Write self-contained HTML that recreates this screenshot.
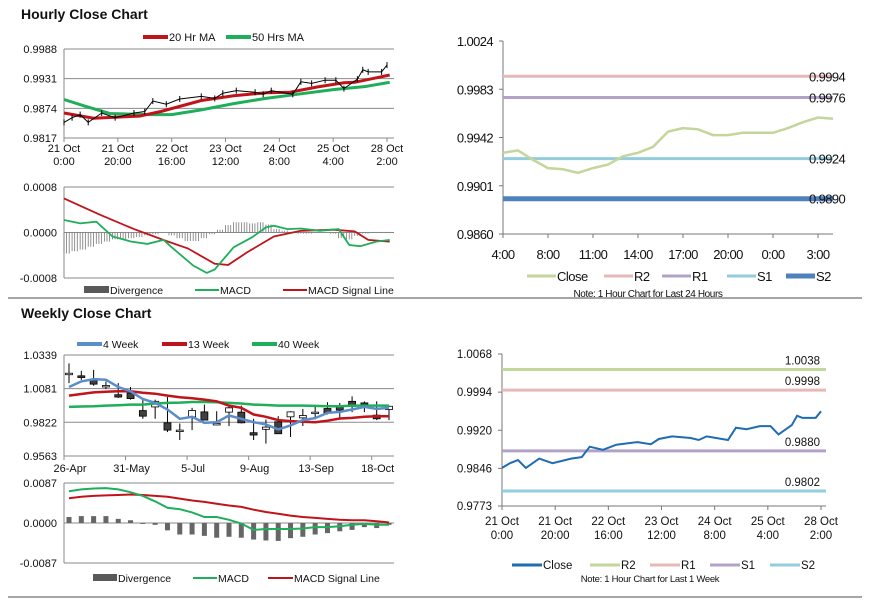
<!DOCTYPE html>
<html><head><meta charset="utf-8"><style>
html,body{margin:0;padding:0;background:#fff;}
svg{display:block;font-family:"Liberation Sans",Arial,sans-serif;}
</style></head><body>
<svg id="s" width="873" height="601" viewBox="0 0 873 601" xmlns="http://www.w3.org/2000/svg">
<rect width="873" height="601" fill="#fff"/>
<text x="21" y="19" font-size="14" font-weight="bold" fill="#111">Hourly Close Chart</text>
<text x="21" y="318" font-size="14" font-weight="bold" fill="#111">Weekly Close Chart</text>
<line x1="8" y1="298" x2="862" y2="298" stroke="#888" stroke-width="1.5"/>
<line x1="8" y1="597" x2="862" y2="597" stroke="#888" stroke-width="1.5"/>
</svg>
<script>
// ===== Hourly close (shared series for top-left candles & bottom-right line) =====
const hHours=[0,3,6,9,14,19,26,30,33,38,43,51,56,59,64,71,74,77,85,88,92,97,101,104,109,111,113,118,120];
const hClose=[0.9847,0.9856,0.9862,0.9847,0.9865,0.9856,0.9865,0.9868,0.9888,0.9882,0.9892,0.9897,0.9893,0.9903,0.9908,0.9905,0.9901,0.9908,0.9901,0.9925,0.9922,0.9928,0.9928,0.9912,0.9930,0.9948,0.9944,0.9944,0.9957];
const maHours20=[0,11,28,36,51,63,75,84,94,104,108,121];
const ma20=[0.9865,0.9855,0.9859,0.9868,0.9889,0.9898,0.9904,0.9905,0.9915,0.9923,0.9924,0.9938];
const maHours50=[0,8,17,32,40,51,63,75,88,100,112,121];
const ma50=[0.9891,0.9878,0.9864,0.9862,0.9862,0.9871,0.9883,0.9893,0.9902,0.9910,0.9916,0.9924];
const hTickLabels1=["21 Oct","21 Oct","22 Oct","23 Oct","24 Oct","25 Oct","28 Oct"];
const hTickLabels2=["0:00","20:00","16:00","12:00","8:00","4:00","2:00"];
const hTickIdx=[0,20,40,60,80,100,120];
const hYTicks=[0.9817,0.9874,0.9931,0.9988];
// hourly MACD
const sigHours=[0,13,26,38,46,56,61,68,78,88,100,108,113,121];
const sigVals=[0.00060,0.00032,0.00006,-0.00015,-0.00028,-0.00055,-0.00057,-0.00035,-0.00007,0.00003,0.00005,0.00002,-0.00013,-0.00016];
const macdHours=[0,6,12,18,25,31,37,40,48,53,56,63,70,75,78,83,88,95,102,106,110,116,121];
const macdVals=[0.00022,0.00016,0.00019,-0.00007,-0.00016,-0.00020,-0.00013,-0.00026,-0.00058,-0.00071,-0.00065,-0.00026,-0.00008,0.00009,0.00012,0.00006,0.00007,0.00003,0.00006,-0.00022,-0.00024,-0.00016,-0.00013];
const divVals=[-0.00037,-0.00033,-0.00030,-0.00025,-0.00020,-0.00016,-0.00012,-0.00012,-0.00010,-0.00008,-0.00005,-0.00003,0,-0.00005,-0.00010,-0.00015,-0.00015,-0.00010,-0.00003,0.00005,0.00013,0.00018,0.00018,0.00016,0.00018,0.00014,0.00006,0.00003,0,-0.00002,-0.00002,0,0,-0.00002,-0.00010,-0.00012,-0.00006,-0.00002,0.00001,0.00001,0.00001];
const divStep=3;
const hMacdTicks=[-0.0008,0,0.0008];
const hMacdLabels=["-0.0008","0.0000","0.0008"];
// ===== Top-right pivot chart =====
const pClose=[0.9929,0.9931,0.9923,0.9916,0.9915,0.9912,0.9916,0.9919,0.9926,0.9929,0.9934,0.9947,0.9950,0.9949,0.9944,0.9944,0.9946,0.9946,0.9946,0.9950,0.9955,0.9959,0.9958];
const pTickIdx=[0,3,6,9,12,15,18,21];
const pTickLabels=["4:00","8:00","11:00","14:00","17:00","20:00","0:00","3:00"];
const pYTicks=[0.9860,0.9901,0.9942,0.9983,1.0024];
const pLevels=[0.9994,0.9976,0.9924,0.9890];
const pLevelNames=["R2","R1","S1","S2"];
// ===== Bottom-right levels =====
const wLevels=[1.0038,0.9998,0.9880,0.9802];
const wLevelNames=["R2","R1","S1","S2"];
const wYTicks=[0.9773,0.9846,0.9920,0.9994,1.0068];
// ===== Weekly =====
const wkLabels=["26-Apr","31-May","5-Jul","9-Aug","13-Sep","18-Oct"];
const wkLabelIdx=[0,5,10,15,20,25];
const wkOpen=[1.0199,1.0179,1.0148,1.0105,1.0034,1.0047,0.9912,0.9940,0.9818,0.9762,0.9864,0.9902,0.9813,0.9900,0.9900,0.9742,0.9768,0.9826,0.9864,0.9856,0.9900,0.9928,0.9940,0.9983,0.9971,0.9877,0.9920];
const wkClose=[1.0199,1.0166,1.0115,1.0105,1.0016,1.0004,0.9869,0.9983,0.9762,0.9762,0.9912,0.9839,0.9813,0.9933,0.9818,0.9724,0.9785,0.9734,0.9902,0.9874,0.9900,0.9895,0.9915,0.9945,0.9958,0.9849,0.9945];
const wkHigh=[1.0275,1.0217,1.0225,1.0136,1.0123,1.0093,0.9996,0.9996,1.0016,0.9813,0.9933,0.9958,0.9907,0.9950,0.9950,0.9849,0.9844,0.9869,0.9907,0.9925,0.9940,0.9976,0.9971,1.0021,0.9983,0.9983,0.9950];
const wkLow=[1.0123,1.0148,1.0103,1.0077,1.0009,0.9996,0.9849,0.9849,0.9747,0.9686,0.9762,0.9839,0.9806,0.9793,0.9813,0.9686,0.9658,0.9734,0.9709,0.9793,0.9844,0.9882,0.9856,0.9900,0.9900,0.9839,0.9839];
const wk4=[1.0093,1.0136,1.0154,1.0149,1.0093,1.0060,1.0001,0.9971,0.9920,0.9849,0.9864,0.9818,0.9823,0.9874,0.9849,0.9823,0.9806,0.9767,0.9798,0.9839,0.9854,0.9895,0.9902,0.9920,0.9940,0.9925,0.9933];
const wk13=[1.0027,1.0039,1.0052,1.0057,1.0060,1.0060,1.0049,1.0042,1.0027,1.0014,1.0006,0.9996,0.9983,0.9950,0.9933,0.9882,0.9864,0.9839,0.9831,0.9826,0.9823,0.9834,0.9851,0.9856,0.9864,0.9869,0.9869];
const wk40=[0.9940,0.9943,0.9945,0.9950,0.9953,0.9958,0.9958,0.9966,0.9971,0.9973,0.9978,0.9978,0.9976,0.9971,0.9966,0.9958,0.9955,0.9950,0.9950,0.9950,0.9948,0.9945,0.9945,0.9950,0.9950,0.9950,0.9950];
const wkYTicks=[0.9563,0.9822,1.0081,1.0339];
const wkMacd=[0.0069,0.0073,0.0075,0.0076,0.0073,0.0067,0.0059,0.0047,0.0033,0.0030,0.0023,0.0013,0.0013,0.0007,-0.0001,-0.0015,-0.0013,-0.0013,-0.0013,-0.0012,-0.0009,-0.0009,-0.0007,-0.0004,-0.0002,-0.0004,-0.0004];
const wkSignal=[0.0054,0.0057,0.0059,0.0060,0.0061,0.0062,0.0061,0.0059,0.0057,0.0053,0.0049,0.0046,0.0042,0.0038,0.0035,0.0029,0.0024,0.0020,0.0016,0.0013,0.0011,0.0009,0.0007,0.0006,0.0006,0.0004,0.0001];
const wkDiv=[0.0013,0.0015,0.0015,0.0015,0.0009,0.0006,-0.0002,-0.0004,-0.0016,-0.0025,-0.0025,-0.0028,-0.0032,-0.0030,-0.0032,-0.0036,-0.0038,-0.0039,-0.0033,-0.0030,-0.0025,-0.0022,-0.0018,-0.0015,-0.0009,-0.0011,-0.0004];
const wkMacdTicks=[-0.0087,0,0.0087];
const wkMacdLabels=["-0.0087","0.0000","0.0087"];

const svg=document.getElementById('s');
const NS='http://www.w3.org/2000/svg';
function lin(d0,d1,r0,r1){return v=>r0+(v-d0)*(r1-r0)/(d1-d0);}
function mk(tag,a){const e=document.createElementNS(NS,tag);for(const k in a)e.setAttribute(k,a[k]);svg.appendChild(e);return e;}
function txt(x,y,s,a){const e=mk('text',Object.assign({x:x,y:y,'font-size':11,fill:'#111'},a||{}));e.textContent=s;return e;}
function pts(xs,ys,fx,fy){return xs.map((x,i)=>fx(x).toFixed(1)+','+fy(ys[i]).toFixed(1)).join(' ');}
const idx=n=>Array.from({length:n},(_,i)=>i);

// ---------- Panel A: hourly top-left ----------
const xA=lin(0,120,64,387), yA=lin(0.9817,0.9988,138,49);
hYTicks.forEach((v,i)=>{
  const g=mk('line',{x1:64,x2:394,y1:yA(v),y2:yA(v),stroke:'#8a8a8a','stroke-width':1});
  
  
  const t=txt(57,yA(v)+4,v.toFixed(4),{'text-anchor':'end'});
  
  
});
let ax=mk('line',{x1:64,x2:64,y1:49,y2:138,stroke:'#8a8a8a'});


hTickIdx.forEach((h,i)=>{
  const tk=mk('line',{x1:xA(h),x2:xA(h),y1:138,y2:142,stroke:'#8a8a8a'});
  
  
  const t1=txt(xA(h),152,hTickLabels1[i],{'text-anchor':'middle'});
  
  
  const t2=txt(xA(h),165,hTickLabels2[i],{'text-anchor':'middle'});
  
  
});
let l=mk('polyline',{points:pts(maHours50,ma50,xA,yA),fill:'none',stroke:'#1fae5a','stroke-width':3});


l=mk('polyline',{points:pts(maHours20,ma20,xA,yA),fill:'none',stroke:'#c0141b','stroke-width':3});


l=mk('polyline',{points:pts(hHours,hClose,xA,yA),fill:'none',stroke:'#000','stroke-width':1});


hHours.forEach((h,i)=>{
  const b=mk('line',{x1:xA(h),x2:xA(h),y1:yA(hClose[i])-3,y2:yA(hClose[i])+3,stroke:'#000','stroke-width':1});
  
  
});
// legend
l=mk('line',{x1:143,x2:168,y1:37,y2:37,stroke:'#c0141b','stroke-width':4});


l=txt(169,41,'20 Hr MA');


l=mk('line',{x1:226,x2:251,y1:37,y2:37,stroke:'#1fae5a','stroke-width':4});


l=txt(252,41,'50 Hrs MA');



// ---------- Panel A MACD ----------
const yAm=lin(-0.0008,0.0008,278,187);
hMacdTicks.forEach((v,i)=>{
  const g=mk('line',{x1:64,x2:394,y1:yAm(v),y2:yAm(v),stroke:'#8a8a8a'});
  
  
  const t=txt(57,yAm(v)+4,hMacdLabels[i],{'text-anchor':'end'});
  
  
});
ax=mk('line',{x1:64,x2:64,y1:187,y2:278,stroke:'#8a8a8a'});


divVals.forEach((v,i)=>{
  const x=xA(i*divStep);
  for(let k=0;k<3;k++){
    const b=mk('line',{x1:x+k*2.6,x2:x+k*2.6,y1:yAm(0),y2:yAm(v),stroke:'#777','stroke-width':0.8});
    
    
  }
});
l=mk('polyline',{points:pts(sigHours,sigVals,xA,yAm),fill:'none',stroke:'#c0141b','stroke-width':1.8});


l=mk('polyline',{points:pts(macdHours,macdVals,xA,yAm),fill:'none',stroke:'#1fae5a','stroke-width':1.8});


l=mk('rect',{x:84,y:286,width:25,height:7,fill:'#595959'});


l=txt(110,294,'Divergence',{'font-size':10.5});


l=mk('line',{x1:195,x2:219,y1:290,y2:290,stroke:'#1fae5a','stroke-width':2});


l=txt(220,294,'MACD',{'font-size':10.5});


l=mk('line',{x1:283,x2:307,y1:290,y2:290,stroke:'#c0141b','stroke-width':2});


l=txt(308,294,'MACD Signal Line',{'font-size':10.5});



// ---------- Panel B: top-right pivot ----------
const xB=lin(0,22,503,833), yB=lin(0.9860,1.0024,234,41);
const pColors=['#e6b9b8','#b3a2c7','#93cddd','#4f81bd'];
const pWidths=[3,3,3,5];
ax=mk('line',{x1:503,x2:503,y1:41,y2:234,stroke:'#777'});


ax=mk('line',{x1:503,x2:833,y1:234,y2:234,stroke:'#777'});


pYTicks.forEach(v=>{
  const tk=mk('line',{x1:499,x2:503,y1:yB(v),y2:yB(v),stroke:'#777'});
  
  
  const t=txt(493,yB(v)+5,v.toFixed(4),{'text-anchor':'end','font-size':13,'letter-spacing':'-0.6'});
  
  
});
pTickIdx.forEach((p,i)=>{
  const tk=mk('line',{x1:xB(p),x2:xB(p),y1:234,y2:238,stroke:'#777'});
  
  
  const t=txt(xB(p),259,pTickLabels[i],{'text-anchor':'middle','font-size':13,'letter-spacing':'-0.6'});
  
  
});
pLevels.forEach((v,i)=>{
  const ln=mk('line',{x1:503,x2:833,y1:yB(v),y2:yB(v),stroke:pColors[i],'stroke-width':pWidths[i]});
  
  
});
l=mk('polyline',{points:pts(idx(pClose.length),pClose,xB,yB),fill:'none',stroke:'#c3d69b','stroke-width':2.5});


pLevels.forEach((v,i)=>{
  const t=txt(809,yB(v)+5,v.toFixed(4),{'font-size':13,'letter-spacing':'-0.6'});
  
  
});
const pLeg=[['Close','#c3d69b',527,3],['R2','#e6b9b8',604,3],['R1','#b3a2c7',662,3],['S1','#93cddd',727,3],['S2','#4f81bd',786,5]];
pLeg.forEach(d=>{
  const s=mk('line',{x1:d[2],x2:d[2]+29,y1:276,y2:276,stroke:d[1],'stroke-width':d[3]});
  
  
  const t=txt(d[2]+30,281,d[0],{'font-size':13,'letter-spacing':'-0.5'});
  
  
});
l=txt(648,297,'Note: 1 Hour Chart for Last 24 Hours',{'text-anchor':'middle','font-size':10,'letter-spacing':'-0.4'});



// ---------- Panel D: bottom-right ----------
const xD=lin(0,120,502,821), yD=lin(0.9773,1.0068,506,354);
const dColors=['#c3d69b','#e6b9b8','#b3a2c7','#93cddd'];
ax=mk('line',{x1:502,x2:502,y1:354,y2:506,stroke:'#777'});


ax=mk('line',{x1:502,x2:826,y1:506,y2:506,stroke:'#777'});


wYTicks.forEach(v=>{
  const tk=mk('line',{x1:498,x2:502,y1:yD(v),y2:yD(v),stroke:'#777'});
  
  
  const t=txt(492,yD(v)+4,v.toFixed(4),{'text-anchor':'end','font-size':11.5});
  
  
});
hTickIdx.forEach((h,i)=>{
  const tk=mk('line',{x1:xD(h),x2:xD(h),y1:506,y2:510,stroke:'#777'});
  
  
  const t1=txt(xD(h),525,hTickLabels1[i],{'text-anchor':'middle','font-size':11.5});
  
  
  const t2=txt(xD(h),539,hTickLabels2[i],{'text-anchor':'middle','font-size':11.5});
  
  
});
wLevels.forEach((v,i)=>{
  const ln=mk('line',{x1:502,x2:826,y1:yD(v),y2:yD(v),stroke:dColors[i],'stroke-width':3});
  
  
  const t=txt(820,yD(v)-5,v.toFixed(4),{'text-anchor':'end','font-size':11.5});
  
  
});
l=mk('polyline',{points:pts(hHours,hClose,xD,yD),fill:'none',stroke:'#1f6cb0','stroke-width':2});


const dLeg=[['Close','#1f6cb0',512],['R2','#c3d69b',590],['R1','#e6b9b8',650],['S1','#b3a2c7',710],['S2','#93cddd',770]];
dLeg.forEach(d=>{
  const s=mk('line',{x1:d[2],x2:d[2]+30,y1:565,y2:565,stroke:d[1],'stroke-width':3});
  
  
  const t=txt(d[2]+31,569,d[0],{'font-size':11.5});
  
  
});
l=txt(650,582,'Note: 1 Hour Chart for Last 1 Week',{'text-anchor':'middle','font-size':9.5,'letter-spacing':'-0.3'});



// ---------- Panel C: weekly ----------
const xC=lin(0,26,69,389), yC=lin(0.9563,1.0339,456,355);
wkYTicks.forEach(v=>{
  const g=mk('line',{x1:64,x2:394,y1:yC(v),y2:yC(v),stroke:'#8a8a8a'});
  
  
  const t=txt(57,yC(v)+4,v.toFixed(4),{'text-anchor':'end'});
  
  
});
ax=mk('line',{x1:64,x2:64,y1:355,y2:456,stroke:'#8a8a8a'});


wkLabelIdx.forEach((p,i)=>{
  const tk=mk('line',{x1:xC(p)-5,x2:xC(p)-5,y1:456,y2:460,stroke:'#8a8a8a'});
  
  
  const t=txt(xC(p)+1,472,wkLabels[i],{'text-anchor':'middle'});
  
  
});
wkOpen.forEach((o,i)=>{
  const c=wkClose[i], x=xC(i);
  const w=mk('line',{x1:x,x2:x,y1:yC(wkHigh[i]),y2:yC(wkLow[i]),stroke:'#000','stroke-width':1});
  
  
  const top=yC(Math.max(o,c)), bot=yC(Math.min(o,c));
  const h=Math.max(bot-top,1.5);
  const b=mk('rect',{x:x-3.5,y:top,width:7,height:h,fill:c<o?'#404040':'#fff',stroke:'#000','stroke-width':0.8});
  
  
});
[[wk40,'#1fae5a','ma-40-week-line'],[wk13,'#c0141b','ma-13-week-line'],[wk4,'#5b8ccb','ma-4-week-line']].forEach(d=>{
  const p=mk('polyline',{points:pts(idx(d[0].length),d[0],xC,yC),fill:'none',stroke:d[1],'stroke-width':2.5});
  
  
});
[['4 Week','#5b8ccb',77],['13 Week','#c0141b',162],['40 Week','#1fae5a',252]].forEach(d=>{
  const s=mk('line',{x1:d[2],x2:d[2]+25,y1:344,y2:344,stroke:d[1],'stroke-width':4});
  
  
  const t=txt(d[2]+26,348,d[0],{'font-size':10.5});
  
  
});
// weekly MACD
const yCm=lin(-0.0087,0.0087,563,483);
wkMacdTicks.forEach((v,i)=>{
  const g=mk('line',{x1:64,x2:394,y1:yCm(v),y2:yCm(v),stroke:'#8a8a8a'});
  
  
  const t=txt(57,yCm(v)+4,wkMacdLabels[i],{'text-anchor':'end'});
  
  
});
ax=mk('line',{x1:64,x2:64,y1:483,y2:563,stroke:'#8a8a8a'});


wkDiv.forEach((v,i)=>{
  const y0=yCm(0), y1=yCm(v);
  const b=mk('rect',{x:xC(i)-2.5,y:Math.min(y0,y1),width:5,height:Math.abs(y1-y0),fill:'#666'});
  
  
});
l=mk('polyline',{points:pts(idx(wkSignal.length),wkSignal,xC,yCm),fill:'none',stroke:'#c0141b','stroke-width':2});


l=mk('polyline',{points:pts(idx(wkMacd.length),wkMacd,xC,yCm),fill:'none',stroke:'#1fae5a','stroke-width':2});


l=mk('rect',{x:93,y:574,width:24,height:7,fill:'#595959'});


l=txt(118,582,'Divergence',{'font-size':10.5});


l=mk('line',{x1:193,x2:217,y1:578,y2:578,stroke:'#1fae5a','stroke-width':2});


l=txt(218,582,'MACD',{'font-size':10.5});


l=mk('line',{x1:268,x2:293,y1:578,y2:578,stroke:'#c0141b','stroke-width':2});


l=txt(294,582,'MACD Signal Line',{'font-size':10.5});


</script>
</body></html>
